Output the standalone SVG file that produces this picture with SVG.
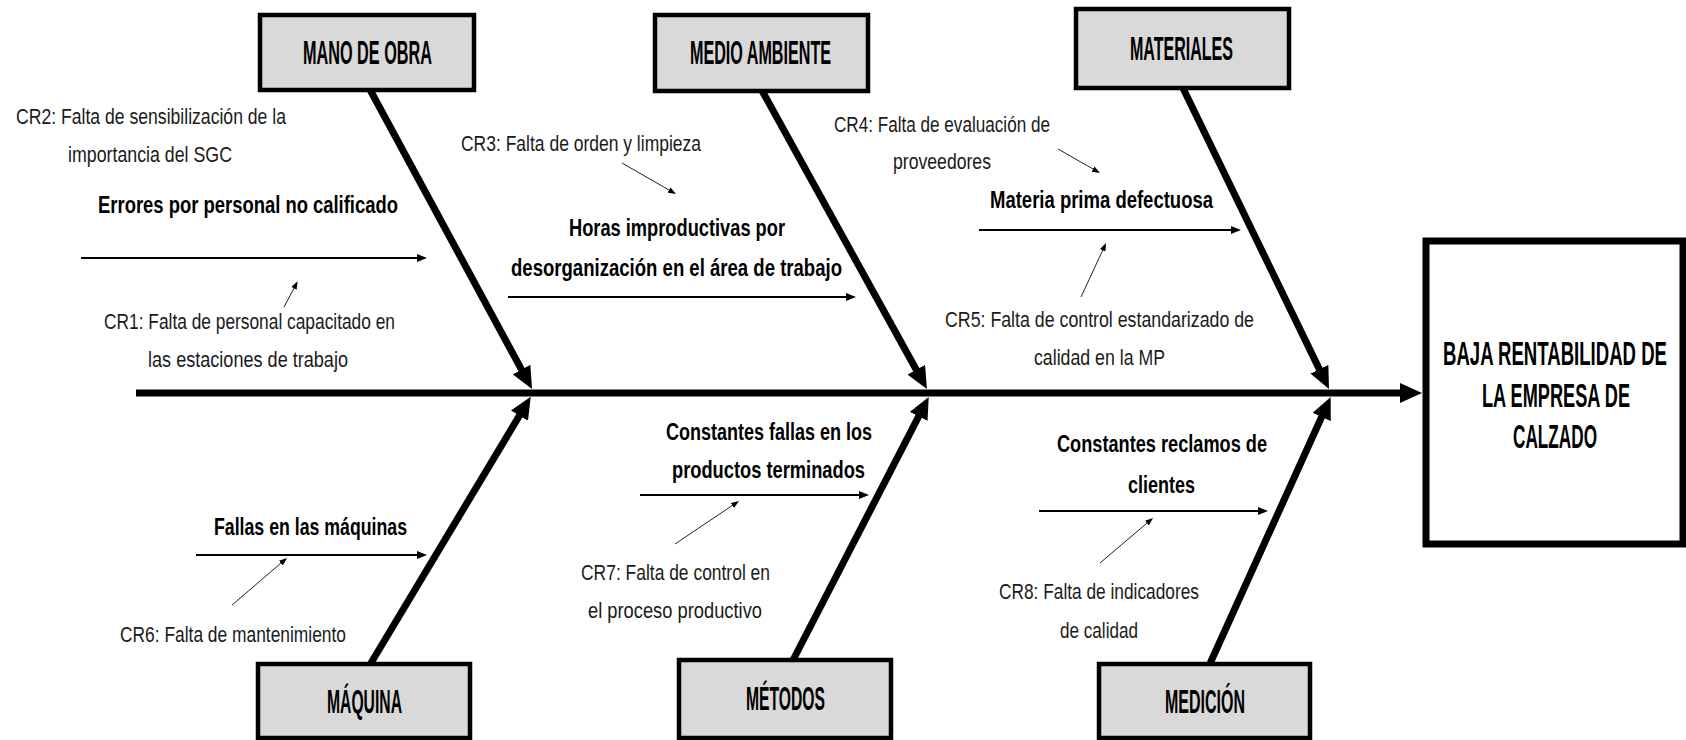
<svg xmlns="http://www.w3.org/2000/svg" width="1686" height="740" viewBox="0 0 1686 740">
  <style>
    .cat { fill: #d9d9d9; stroke: #000; stroke-width: 4.5; }
    .effect { fill: #fff; stroke: #000; stroke-width: 7; }
    .catlbl { font-family: "Liberation Sans", Arial, sans-serif; font-weight: bold; font-size: 34px; fill: #000; }
    .efflbl { font-family: "Liberation Sans", Arial, sans-serif; font-weight: bold; font-size: 19px; fill: #000; }
    .cause { font-family: "Liberation Sans", Arial, sans-serif; font-weight: bold; font-size: 23px; fill: #000; }
    .root { font-family: "Liberation Sans", Arial, sans-serif; font-size: 22px; fill: #1a1a1a; }
    .bone { stroke: #000; stroke-width: 7; fill: none; marker-end: url(#bigHead); }
    .sub { stroke: #000; stroke-width: 2; fill: none; marker-end: url(#midHead); }
    .ptr { stroke: #222; stroke-width: 1; fill: none; marker-end: url(#smallHead); }
  </style>
  <defs>
    <marker id="bigHead" viewBox="0 0 22 20" refX="6" refY="10" markerWidth="22" markerHeight="20" markerUnits="userSpaceOnUse" orient="auto">
      <path d="M0,0 L22,10 L0,20 z" fill="#000"/>
    </marker>
    <marker id="midHead" viewBox="0 0 10 8" refX="2" refY="4" markerWidth="10" markerHeight="8" markerUnits="userSpaceOnUse" orient="auto">
      <path d="M0,0 L10,4 L0,8 z" fill="#000"/>
    </marker>
    <marker id="smallHead" viewBox="0 0 8 6" refX="1" refY="3" markerWidth="8" markerHeight="6" markerUnits="userSpaceOnUse" orient="auto">
      <path d="M0,0 L8,3 L0,6 z" fill="#000"/>
    </marker>
  </defs>

  <!-- spine, category bones, cause arrows and root-cause pointers -->
  <g id="connectors">
    <line class="bone" x1="136" y1="393" x2="1406" y2="393"/>
    <line class="bone" x1="368" y1="86" x2="524.4" y2="374.9"/>
    <line class="bone" x1="760" y1="87" x2="919.2" y2="375"/>
    <line class="bone" x1="1181" y1="84" x2="1322" y2="374.6"/>
    <line class="bone" x1="368" y1="668" x2="522.5" y2="410.5"/>
    <line class="bone" x1="791" y1="664" x2="921.4" y2="411.1"/>
    <line class="bone" x1="1208" y1="668" x2="1324.1" y2="411.5"/>

    <line class="sub" x1="81" y1="258" x2="419" y2="258"/>
    <line class="sub" x1="508" y1="297" x2="848" y2="297"/>
    <line class="sub" x1="979" y1="230" x2="1233" y2="230"/>
    <line class="sub" x1="196" y1="555" x2="419" y2="555"/>
    <line class="sub" x1="640" y1="495" x2="861" y2="495"/>
    <line class="sub" x1="1039" y1="511" x2="1260" y2="511"/>

    <line class="ptr" x1="284" y1="307" x2="294.4" y2="287.5"/>
    <line class="ptr" x1="622" y1="163" x2="669.9" y2="190.5"/>
    <line class="ptr" x1="1058" y1="149" x2="1093.9" y2="169.5"/>
    <line class="ptr" x1="1081" y1="297" x2="1103.1" y2="249.4"/>
    <line class="ptr" x1="232" y1="605" x2="281.7" y2="562.5"/>
    <line class="ptr" x1="675" y1="544" x2="733.2" y2="504.9"/>
    <line class="ptr" x1="1100" y1="563" x2="1147.7" y2="522.5"/>
  </g>

  <!-- effect -->
  <g id="effect">
    <rect class="effect" x="1426" y="241" width="257" height="303"/>
    <text class="efflbl" transform="translate(1443 365) scale(1 1.7)" textLength="224" lengthAdjust="spacingAndGlyphs">BAJA RENTABILIDAD DE</text>
    <text class="efflbl" transform="translate(1482 407) scale(1 1.7)" textLength="148" lengthAdjust="spacingAndGlyphs">LA EMPRESA DE</text>
    <text class="efflbl" transform="translate(1513 448) scale(1 1.7)" textLength="84" lengthAdjust="spacingAndGlyphs">CALZADO</text>
  </g>

  <!-- categories -->
  <g id="cat-mano-de-obra">
    <rect class="cat" x="260" y="15" width="214" height="75"/>
    <text class="catlbl" x="303" y="64" textLength="129" lengthAdjust="spacingAndGlyphs">MANO DE OBRA</text>
  </g>
  <g id="cat-medio-ambiente">
    <rect class="cat" x="655" y="15" width="213" height="76"/>
    <text class="catlbl" x="690" y="64" textLength="141" lengthAdjust="spacingAndGlyphs">MEDIO AMBIENTE</text>
  </g>
  <g id="cat-materiales">
    <rect class="cat" x="1076" y="9" width="213" height="79"/>
    <text class="catlbl" x="1130" y="60" textLength="103" lengthAdjust="spacingAndGlyphs">MATERIALES</text>
  </g>
  <g id="cat-maquina">
    <rect class="cat" x="258" y="664" width="212" height="74"/>
    <text class="catlbl" x="327" y="713" textLength="75" lengthAdjust="spacingAndGlyphs">MÁQUINA</text>
  </g>
  <g id="cat-metodos">
    <rect class="cat" x="679" y="660" width="212" height="78"/>
    <text class="catlbl" x="746" y="710" textLength="79" lengthAdjust="spacingAndGlyphs">MÉTODOS</text>
  </g>
  <g id="cat-medicion">
    <rect class="cat" x="1099" y="664" width="211" height="74"/>
    <text class="catlbl" x="1165" y="713" textLength="80" lengthAdjust="spacingAndGlyphs">MEDICIÓN</text>
  </g>

  <!-- causes -->
  <g id="cause-errores">
    <text class="cause" x="98" y="213" textLength="300" lengthAdjust="spacingAndGlyphs">Errores por personal no calificado</text>
  </g>
  <g id="cause-horas">
    <text class="cause" x="569" y="236" textLength="216" lengthAdjust="spacingAndGlyphs">Horas improductivas por</text>
    <text class="cause" x="511" y="276" textLength="331" lengthAdjust="spacingAndGlyphs">desorganización  en el área de trabajo</text>
  </g>
  <g id="cause-materia">
    <text class="cause" x="990" y="208" textLength="223" lengthAdjust="spacingAndGlyphs">Materia prima defectuosa</text>
  </g>
  <g id="cause-fallas-maquinas">
    <text class="cause" x="214" y="535" textLength="193" lengthAdjust="spacingAndGlyphs">Fallas en las máquinas</text>
  </g>
  <g id="cause-fallas-productos">
    <text class="cause" x="666" y="440" textLength="206" lengthAdjust="spacingAndGlyphs">Constantes fallas en los</text>
    <text class="cause" x="672" y="478" textLength="193" lengthAdjust="spacingAndGlyphs">productos terminados</text>
  </g>
  <g id="cause-reclamos">
    <text class="cause" x="1057" y="452" textLength="210" lengthAdjust="spacingAndGlyphs">Constantes reclamos de</text>
    <text class="cause" x="1128" y="493" textLength="67" lengthAdjust="spacingAndGlyphs">clientes</text>
  </g>

  <!-- root causes -->
  <g id="cr1">
    <text class="root" x="104" y="329" textLength="291" lengthAdjust="spacingAndGlyphs">CR1: Falta de personal capacitado en</text>
    <text class="root" x="148" y="367" textLength="200" lengthAdjust="spacingAndGlyphs">las estaciones de trabajo</text>
  </g>
  <g id="cr2">
    <text class="root" x="16" y="124" textLength="270" lengthAdjust="spacingAndGlyphs">CR2: Falta de sensibilización de la</text>
    <text class="root" x="68" y="162" textLength="164" lengthAdjust="spacingAndGlyphs">importancia del SGC</text>
  </g>
  <g id="cr3">
    <text class="root" x="461" y="151" textLength="240" lengthAdjust="spacingAndGlyphs">CR3: Falta de orden y limpieza</text>
  </g>
  <g id="cr4">
    <text class="root" x="834" y="132" textLength="216" lengthAdjust="spacingAndGlyphs">CR4: Falta de evaluación de</text>
    <text class="root" x="893" y="169" textLength="98" lengthAdjust="spacingAndGlyphs">proveedores</text>
  </g>
  <g id="cr5">
    <text class="root" x="945" y="327" textLength="309" lengthAdjust="spacingAndGlyphs">CR5: Falta de control estandarizado de</text>
    <text class="root" x="1034" y="365" textLength="131" lengthAdjust="spacingAndGlyphs">calidad  en la MP</text>
  </g>
  <g id="cr6">
    <text class="root" x="120" y="642" textLength="226" lengthAdjust="spacingAndGlyphs">CR6: Falta  de mantenimiento</text>
  </g>
  <g id="cr7">
    <text class="root" x="581" y="580" textLength="189" lengthAdjust="spacingAndGlyphs">CR7: Falta  de control  en</text>
    <text class="root" x="588" y="618" textLength="174" lengthAdjust="spacingAndGlyphs">el proceso  productivo</text>
  </g>
  <g id="cr8">
    <text class="root" x="999" y="599" textLength="200" lengthAdjust="spacingAndGlyphs">CR8: Falta de indicadores</text>
    <text class="root" x="1060" y="638" textLength="78" lengthAdjust="spacingAndGlyphs">de calidad</text>
  </g>
</svg>
